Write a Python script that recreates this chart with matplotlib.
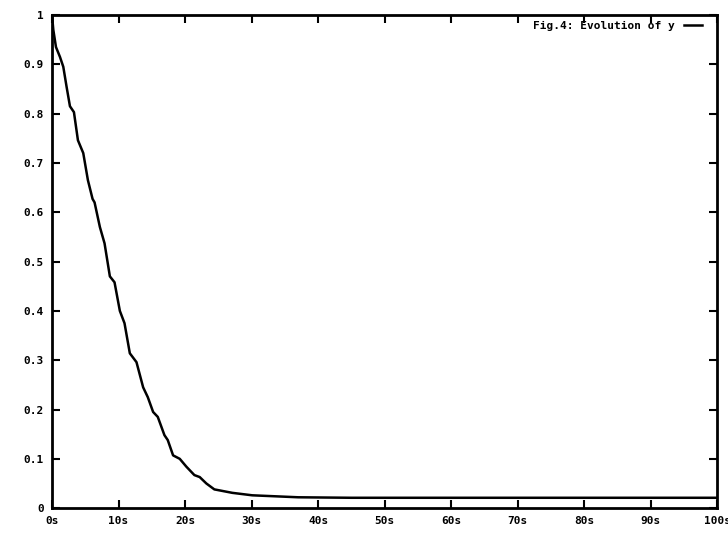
import numpy as np
import matplotlib.pyplot as plt

# curve (time in s, y value)
t = [0, 0.2, 0.6, 1.2, 1.7, 2.2, 2.7, 3.3, 3.9, 4.7, 5.4, 6.1, 6.4, 7.2, 7.9,
     8.7, 9.4, 10.2, 10.9, 11.7, 12.7, 13.7, 14.4, 15.2, 15.9, 16.9, 17.4,
     18.2, 19.2, 20.2, 21.4, 22.2, 23.2, 24.4, 27.1, 30.1, 37, 45, 60, 80, 100]
y = [1.0, 0.97, 0.935, 0.915, 0.895, 0.854, 0.815, 0.803, 0.746, 0.72, 0.665,
     0.627, 0.62, 0.57, 0.537, 0.47, 0.458, 0.40, 0.375, 0.314, 0.296, 0.245,
     0.225, 0.195, 0.185, 0.148, 0.138, 0.107, 0.10, 0.084, 0.067, 0.063,
     0.05, 0.038, 0.031, 0.026, 0.022, 0.021, 0.021, 0.021, 0.021]

xticks = [0, 10, 20, 30, 40, 50, 60, 70, 80, 90, 100]
xlabels = ['0s', '10s', '20s', '30s', '40s', '50s', '60s', '70s', '80s', '90s', '100s']
yticks = [0, 0.1, 0.2, 0.3, 0.4, 0.5, 0.6, 0.7, 0.8, 0.9, 1]
ylabels = ['0', '0.1', '0.2', '0.3', '0.4', '0.5', '0.6', '0.7', '0.8', '0.9', '1']

fig = plt.figure(figsize=(7.28, 5.36), dpi=100)
ax = fig.add_axes([0.0714, 0.052, 0.914, 0.920])

ax.plot(t, y, color='black', linewidth=1.8, label='Fig.4: Evolution of y')

ax.set_xlim(0, 100)
ax.set_ylim(0, 1)
ax.set_xticks(xticks)
ax.set_xticklabels(xlabels)
ax.set_yticks(yticks)
ax.set_yticklabels(ylabels)

font = dict(family='DejaVu Sans Mono', weight='bold', size=8)
for lab in ax.get_xticklabels() + ax.get_yticklabels():
    lab.set_fontfamily(font['family'])
    lab.set_fontweight(font['weight'])
    lab.set_fontsize(font['size'])

ax.tick_params(direction='in', length=6, width=1.5, top=True, right=True, pad=6)
for s in ax.spines.values():
    s.set_linewidth(2)

leg = ax.legend(loc='upper right', frameon=False, handlelength=1.6,
                markerfirst=False, prop=font, borderaxespad=0.1,
                bbox_to_anchor=(0.985, 1.0))

fig.savefig('out.png', dpi=100)
